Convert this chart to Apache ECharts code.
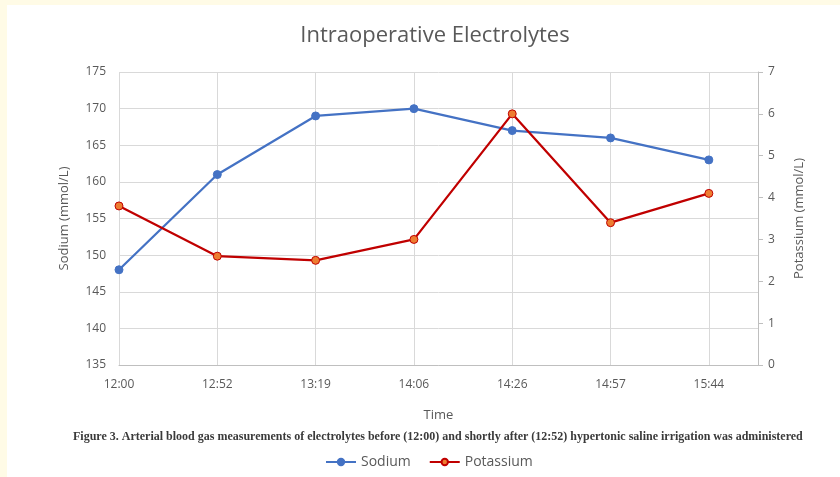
<!DOCTYPE html>
<html>
<head>
<meta charset="utf-8">
<script src="https://cdn.jsdelivr.net/npm/echarts@6/dist/echarts.min.js"></script>
<style>
  html, body { margin: 0; padding: 0; background: #fffbe6; }
  #chart { position: absolute; left: 7px; top: 5px; width: 833px; height: 472px; background: #ffffff; }
</style>
</head>
<body>
<div id="chart"></div>
<script>
// 数据
var times = ["12:00", "12:52", "13:19", "14:06", "14:26", "14:57", "15:44"];
var sodium = [148, 161, 169, 170, 167, 166, 163];
var potassium = [3.8, 2.6, 2.5, 3.0, 6.0, 3.4, 4.1];
var caption = "Figure 3. Arterial blood gas measurements of electrolytes before (12:00) and shortly after (12:52) hypertonic saline irrigation was administered";

function toPoints(vals) {
  return vals.map(function (v, i) { return [i, v]; });
}

var chart = echarts.init(document.getElementById("chart"));
var font = "'Open Sans', 'Noto Sans', sans-serif";

chart.setOption({
  animation: false,
  textStyle: { fontFamily: font },
  title: {
    text: "Intraoperative Electrolytes",
    left: 423,
    top: 15,
    textAlign: "center",
    textStyle: { fontSize: 22, fontWeight: "normal", color: "#595959", fontFamily: font }
  },
  graphic: [{
    type: "text",
    left: 66,
    top: 426,
    style: { text: caption, font: "bold 12px 'Liberation Serif', serif", fill: "#3a3a3a" }
  }],
  legend: {
    bottom: 3,
    left: 313,
    itemGap: 18,
    itemWidth: 30,
    itemHeight: 8,
    textStyle: { fontSize: 14, color: "#595959" },
    data: ["Sodium", "Potassium"]
  },
  grid: { left: 112, right: 82, top: 67, bottom: 112 },
  xAxis: {
    type: "value",
    min: 0,
    max: 6.5,
    interval: 1,
    name: "Time",
    nameLocation: "middle",
    nameGap: 44,
    nameTextStyle: { fontSize: 13, color: "#595959" },
    axisLine: { show: true, onZero: false, lineStyle: { color: "#bfbfbf" } },
    axisTick: { show: false },
    axisLabel: {
      margin: 14, fontSize: 12, color: "#595959", showMaxLabel: false,
      formatter: function (v) { return times[v] || ""; }
    },
    splitLine: { show: true, lineStyle: { color: "#d9d9d9" } }
  },
  yAxis: [{
    type: "value",
    min: 135,
    max: 175,
    interval: 5,
    name: "Sodium (mmol/L)",
    nameLocation: "middle",
    nameGap: 48,
    nameTextStyle: { fontSize: 13, color: "#595959" },
    axisLine: { show: false },
    axisTick: { show: false },
    axisLabel: { margin: 13, fontSize: 12, color: "#595959" },
    splitLine: { lineStyle: { color: "#d9d9d9" } }
  }, {
    type: "value",
    min: 0,
    max: 7,
    interval: 1,
    name: "Potassium (mmol/L)",
    nameLocation: "middle",
    nameGap: 35,
    nameTextStyle: { fontSize: 13, color: "#595959" },
    axisLine: { show: true, lineStyle: { color: "#bfbfbf" } },
    axisTick: { show: true, length: 5, lineStyle: { color: "#bfbfbf" } },
    axisLabel: { margin: 10, fontSize: 12, color: "#595959" },
    splitLine: { show: false }
  }],
  series: [{
    name: "Sodium",
    type: "line",
    yAxisIndex: 0,
    data: toPoints(sodium),
    symbol: "circle",
    symbolSize: 8,
    lineStyle: { color: "#4472c4", width: 2.25 },
    itemStyle: { color: "#4472c4", borderColor: "#4472c4", borderWidth: 1 }
  }, {
    name: "Potassium",
    type: "line",
    yAxisIndex: 1,
    data: toPoints(potassium),
    symbol: "circle",
    symbolSize: 8,
    lineStyle: { color: "#c00000", width: 2.25 },
    itemStyle: { color: "#ed7d31", borderColor: "#c00000", borderWidth: 1 }
  }]
});
</script>
</body>
</html>
